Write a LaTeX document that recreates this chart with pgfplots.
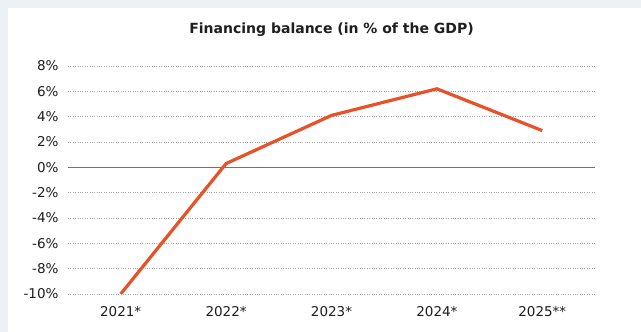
\documentclass[border=0pt]{standalone}
\usepackage{pgfplots}
\pgfplotsset{compat=1.18}
\usepackage{fontspec}
\setmainfont{DejaVu Sans}
\definecolor{bgpanel}{RGB}{236,241,245}
\definecolor{lineorange}{RGB}{232,82,40}
\definecolor{textdark}{RGB}{30,30,30}
\definecolor{zeroline}{RGB}{115,115,115}
\begin{document}
\begin{tikzpicture}
\fill[bgpanel] (0,0) rectangle (641bp,332bp);
\fill[white] (8bp,0) rectangle (641bp,324bp);
\useasboundingbox (0,0) rectangle (641bp,332bp);
\begin{axis}[
  at={(68bp,38bp)}, anchor=south west,
  scale only axis, width=527bp, height=228bp,
  xmin=-0.5, xmax=4.5, ymin=-10, ymax=8,
  xtick={0,1,2,3,4},
  xticklabels={2021*,2022*,2023*,2024*,2025**},
  ytick={-10,-8,...,8},
  yticklabels={-10\%,-8\%,-6\%,-4\%,-2\%,0\%,2\%,4\%,6\%,8\%},
  axis line style={draw=none}, major tick style={draw=none},
  ymajorgrids, grid style={dotted, gray!70, line width=0.7bp},
  extra y ticks={0}, extra y tick labels={},
  extra y tick style={grid style={solid, zeroline, line width=1.4bp}, major tick style={draw=none}},
  ticklabel style={font=\fontsize{13.5bp}{16bp}\selectfont, text=textdark},
  yticklabel style={xshift=-6bp},
  xticklabel style={yshift=-9bp},
  clip mode=individual,
  title={Financing balance (in \% of the GDP)},
  title style={font=\bfseries\fontsize{14bp}{16bp}\selectfont, text=textdark, at={(0.5,1)}, anchor=center, yshift=30bp},
]
\addplot[lineorange, line width=3.2bp] coordinates {
  (0,-10.0)
  (1,0.3)
  (2,4.1)
  (3,6.2)
  (4,2.9)
};
\end{axis}
\end{tikzpicture}
\end{document}
